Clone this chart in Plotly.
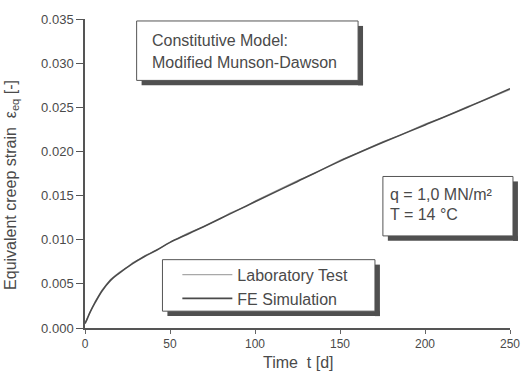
import plotly.graph_objects as go

# ---- data ----
t_fe = [0, 1, 3, 6, 10, 15, 20, 28, 35, 42, 50, 60, 70, 85, 100, 125, 150, 175, 200, 225, 250]
eps_fe = [0.0005, 0.0009, 0.0018, 0.0029, 0.0042, 0.0054, 0.0062, 0.0073, 0.0081, 0.0088,
          0.0097, 0.0106, 0.0115, 0.0129, 0.0143, 0.0166, 0.0189, 0.0210, 0.0230, 0.0250, 0.0271]

t_lab = [0, 1, 3, 6, 10, 15, 20, 25, 28, 32, 35, 42, 50, 60, 70, 80, 85, 95, 100, 110, 125,
         135, 150, 160, 175, 185, 200, 210, 225, 235, 245, 250]
eps_lab = [0.0006, 0.0010, 0.0019, 0.0030, 0.0043, 0.0055, 0.0063, 0.0069, 0.0074, 0.0078,
           0.0082, 0.0088, 0.0097, 0.0107, 0.0115, 0.0124, 0.0130, 0.0138, 0.0144, 0.0153, 0.0167,
           0.0175, 0.0190, 0.0198, 0.0211, 0.0218, 0.0231, 0.0238, 0.0251, 0.0258, 0.0266, 0.0270]

x_ticks = [0, 50, 100, 150, 200, 250]
y_ticks = [0.000, 0.005, 0.010, 0.015, 0.020, 0.025, 0.030, 0.035]

model_text = ["Constitutive Model:", "Modified Munson-Dawson"]
cond_text = ["q = 1,0 MN/m²", "T = 14 °C"]

# page geometry (body margin removed via post_script)
PLOT_L, PLOT_R, PLOT_T, PLOT_B = 85, 513, 16, 328
W, H = 532, 382
L, T = PLOT_L, PLOT_T
R = W - PLOT_R
B = H - PLOT_B
PW, PH = PLOT_R - PLOT_L, PLOT_B - PLOT_T

def px(xp):
    return (xp - PLOT_L) / PW

def py(yp):
    return (PLOT_B - yp) / PH

FONT = "Liberation Sans, Arial, sans-serif"
TXT = "#4a4a4a"

fig = go.Figure()
fig.add_trace(go.Scatter(x=t_lab, y=eps_lab, mode="lines", name="Laboratory Test",
                         line=dict(color="#a8a8a8", width=1.1)))
fig.add_trace(go.Scatter(x=t_fe, y=eps_fe, mode="lines", name="FE Simulation",
                         line=dict(color="#4a4a4a", width=1.6, shape="spline")))

shapes = []
annotations = []

def shadow_box(x0, y0, x1, y1, d=5):
    shapes.append(dict(type="rect", xref="paper", yref="paper",
                       x0=px(x0), x1=px(x1), y0=py(y1), y1=py(y0),
                       line=dict(color="#555555", width=1), fillcolor="white", layer="above"))
    shapes.append(dict(type="rect", xref="paper", yref="paper",
                       x0=px(x0 + d), x1=px(x1 + d), y0=py(y1 + d), y1=py(y1),
                       line=dict(width=0), fillcolor="#505050", layer="above"))
    shapes.append(dict(type="rect", xref="paper", yref="paper",
                       x0=px(x1), x1=px(x1 + d), y0=py(y1 + d), y1=py(y0 + d),
                       line=dict(width=0), fillcolor="#505050", layer="above"))

shadow_box(137, 18, 360, 78)
shadow_box(163, 259, 377, 311)
shadow_box(385, 175, 516, 235)

for i, s in enumerate(model_text):
    annotations.append(dict(xref="paper", yref="paper", x=px(150), y=py(38 + 22 * i),
                            xanchor="left", yanchor="middle", text=s, showarrow=False,
                            font=dict(family=FONT, size=16, color=TXT)))
for i, s in enumerate(cond_text):
    annotations.append(dict(xref="paper", yref="paper", x=px(390), y=py(193 + 20 * i),
                            xanchor="left", yanchor="middle", text=s, showarrow=False,
                            font=dict(family=FONT, size=16, color=TXT)))
# y-axis title
annotations.append(dict(xref="paper", yref="paper", x=px(11), y=py(184),
                        xanchor="center", yanchor="middle", textangle=-90, showarrow=False,
                        text="Equivalent creep strain  ε<sub>eq</sub> [-]",
                        font=dict(family=FONT, size=16, color=TXT)))
# x-axis title
annotations.append(dict(xref="paper", yref="paper", x=px(300), y=py(363),
                        xanchor="center", yanchor="middle", showarrow=False,
                        text="Time  t [d]",
                        font=dict(family=FONT, size=16, color=TXT)))

fig.update_layout(
    width=W, height=H,
    margin=dict(l=L, r=R, t=T, b=B),
    paper_bgcolor="white", plot_bgcolor="white",
    font=dict(family=FONT, size=12, color=TXT),
    shapes=shapes, annotations=annotations,
    showlegend=True,
    legend=dict(x=px(178), y=py(257), xanchor="left", yanchor="top",
                bgcolor="rgba(0,0,0,0)", borderwidth=0, itemwidth=50,
                font=dict(family=FONT, size=16, color=TXT), tracegroupgap=0),
    xaxis=dict(range=[0, 250], tickvals=x_ticks, ticks="outside", ticklen=4,
               tickcolor="#666", showline=True, linecolor="#555", linewidth=1.5,
               showgrid=False, zeroline=False,
               tickfont=dict(family=FONT, size=12, color=TXT)),
    yaxis=dict(range=[0, 0.035], tickvals=y_ticks, tickformat=".3f", ticks="outside", ticklen=7,
               tickcolor="#555", showline=True, linecolor="#555", linewidth=1.5,
               showgrid=False, zeroline=False,
               tickfont=dict(family=FONT, size=13, color=TXT)),
)

fig.write_html("out.html", config={"displayModeBar": False},
               post_script="document.body.style.margin='0';")
